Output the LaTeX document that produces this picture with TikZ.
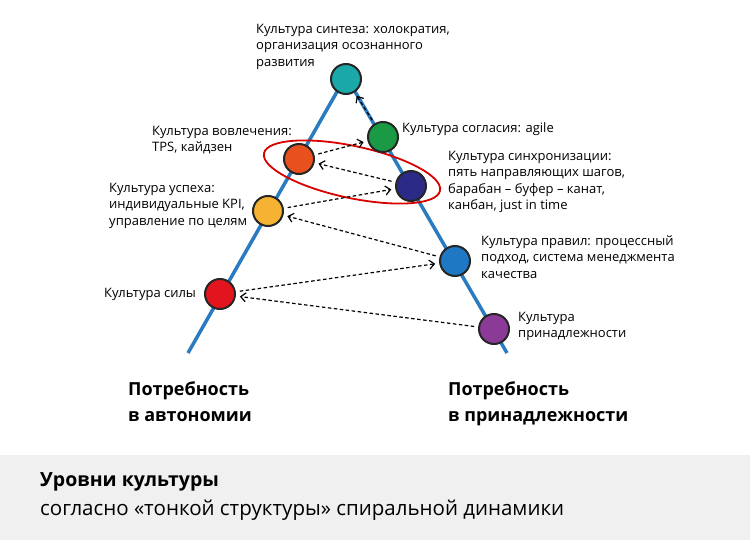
\documentclass[tikz,border=0pt]{standalone}
\usepackage{fontspec}
\setmainfont{Open Sans}
\usetikzlibrary{arrows.meta}
\definecolor{lblue}{HTML}{2A7BC0}
\definecolor{cteal}{HTML}{1BA8A8}
\definecolor{cgreen}{HTML}{1A9A45}
\definecolor{corange}{HTML}{E8501E}
\definecolor{cnavy}{HTML}{2B2A86}
\definecolor{cyellow}{HTML}{F6B233}
\definecolor{cblue}{HTML}{1F78C4}
\definecolor{cred}{HTML}{E2151E}
\definecolor{cpurple}{HTML}{8B3A98}
\tikzset{
 dot/.style={circle,draw=black!85,line width=2pt,minimum size=30pt,inner sep=0pt},
 lbl/.style={font=\fontsize{13}{16.5}\selectfont,align=left,inner sep=0pt},
 arr/.style={dash pattern=on 3.5pt off 2.5pt,line width=1.2pt,-{Straight Barb[length=5pt,width=9pt]},shorten >=4pt,shorten <=4pt},
 big/.style={font=\fontsize{18}{26}\selectfont\bfseries,align=left,inner sep=0pt,anchor=north west}
}
\begin{document}
\begin{tikzpicture}[x=1pt,y=-1pt]
\useasboundingbox (0,0) rectangle (750,540);
\fill[black!6] (0,455) rectangle (750,540);
\coordinate (top) at (346,76);
\coordinate (bl) at (188,353);
\coordinate (br) at (507,353);
\draw[lblue,line width=3.5pt] (bl) -- (top) -- (br);
\draw[red!85!black,line width=1.8pt,rotate around={-12:(352,172)}] (352,172) ellipse (90 and 26);
\node[dot,fill=cteal] (n1) at (346,79) {};
\node[dot,fill=cgreen] (n2) at (383,137) {};
\node[dot,fill=corange] (n3) at (299,159) {};
\node[dot,fill=cnavy] (n4) at (411,186) {};
\node[dot,fill=cyellow] (n5) at (268,211) {};
\node[dot,fill=cblue] (n6) at (455,261) {};
\node[dot,fill=cred] (n7) at (220,294) {};
\node[dot,fill=cpurple] (n8) at (494,329) {};
\draw[arr] (n8) -- (n7);
\draw[arr] (n7) -- (n6);
\draw[arr] (n6) -- (n5);
\draw[arr] (n5) -- (n4);
\draw[arr] (n4) -- (n3);
\draw[arr] (n3) -- (n2);
\draw[arr] (n2) -- (n1);
\node[lbl,anchor=north west] (t1) at (256,24) {Культура синтеза: холократия,\\организация осознанного\\развития};
\node[lbl,anchor=west] (t2) at (402,129) {Культура согласия: agile};
\node[lbl,anchor=north west] (t3) at (152,126) {Культура вовлечения:\\TPS, кайдзен};
\node[lbl,anchor=north west] (t4) at (448,151) {Культура синхронизации:\\пять направляющих шагов,\\барабан – буфер – канат,\\канбан, just in time};
\node[lbl,anchor=north west] (t5) at (109,183) {Культура успеха:\\индивидуальные KPI,\\управление по целям};
\node[lbl,anchor=north west] (t6) at (481,235) {Культура правил: процессный\\подход, система менеджмента\\качества};
\node[lbl,anchor=west] (t7) at (104,294) {Культура силы};
\node[lbl,anchor=north west] (t8) at (518,312) {Культура\\принадлежности};
\node[big] (a1) at (128,381) {Потребность\\в автономии};
\node[big] (a2) at (448,381) {Потребность\\в принадлежности};
\node[anchor=north west,inner sep=0pt,font=\fontsize{19.5}{24}\selectfont\bfseries] (h1) at (40,472) {Уровни культуры};
\node[anchor=north west,inner sep=0pt,font=\fontsize{20.5}{24}\selectfont] (h2) at (40,500) {согласно «тонкой структуры» спиральной динамики};
\end{tikzpicture}
\end{document}
